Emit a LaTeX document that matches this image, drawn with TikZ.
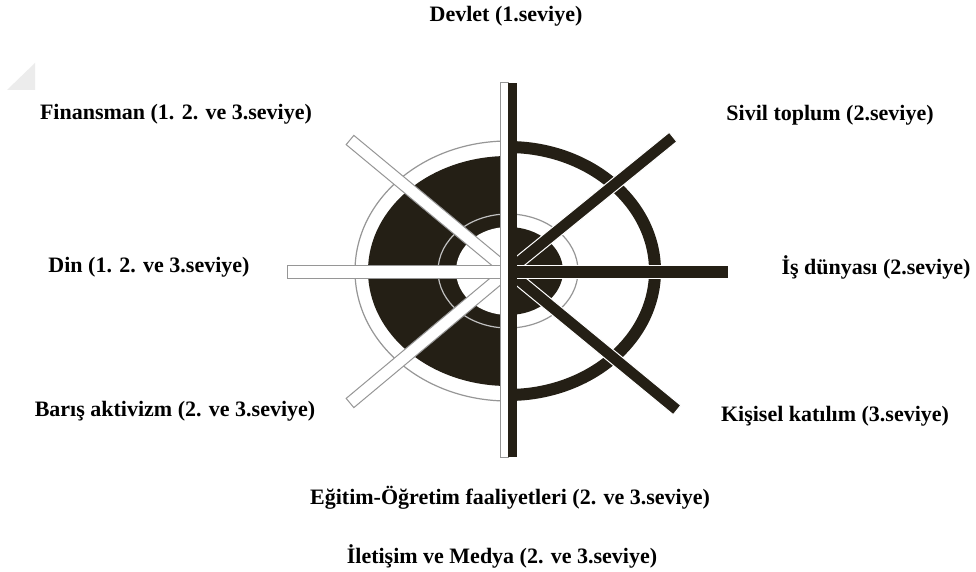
\documentclass[tikz,border=0pt]{standalone}
\usepackage{fontspec}
\setmainfont{Liberation Serif}
\usetikzlibrary{calc}
\definecolor{dk}{RGB}{36,31,21}
\definecolor{gl}{RGB}{150,150,150}
\definecolor{fold}{RGB}{236,236,236}
\newcommand\wheelbar[4]{\path[#4] ($(#1)!#3!90:(#2)$) -- ($(#1)!#3!-90:(#2)$) -- ($(#2)!#3!90:(#1)$) -- ($(#2)!#3!-90:(#1)$) -- cycle;}
\begin{document}
\begin{tikzpicture}[x=1pt,y=-1pt,
  lbl/.style={font=\fontsize{22}{26}\selectfont\bfseries, inner sep=0pt, anchor=base},
  whitebar/.style={fill=white, draw=gl, line width=1pt},
  darkbar/.style={fill=dk, draw=white, line width=1pt}]
\useasboundingbox (0,0) rectangle (976,572);
\fill[white] (0,0) rectangle (976,572);
\fill[fold] (35,63) -- (35,90) -- (7,90) -- cycle;
\coordinate (C) at (508,271);
% left half of the wheel
\begin{scope}
\clip (0,0) rectangle (508,572);
\draw[gl, line width=1.2pt, fill=white] (C) ellipse [x radius=153pt, y radius=130pt];
\fill[dk] (C) ellipse [x radius=140pt, y radius=115pt];
\draw[gl!60, line width=1.2pt] (C) ellipse [x radius=70pt, y radius=57pt];
\fill[white] (C) ellipse [x radius=52pt, y radius=44pt];
\end{scope}
% right half of the wheel
\begin{scope}
\clip (508,0) rectangle (976,572);
\draw[dk, line width=12pt] (C) ellipse [x radius=147pt, y radius=124pt];
\draw[gl, line width=1.2pt] (C) ellipse [x radius=70pt, y radius=57pt];
\fill[dk] (C) ellipse [x radius=55pt, y radius=44pt];
\end{scope}
% spokes
\coordinate (UL) at (350,140);
\coordinate (LL) at (350,403);
\coordinate (UR) at (673,137);
\coordinate (LR) at (677,410);
\coordinate (HL) at (287,271.5);
\coordinate (HR) at (728,271.5);
\coordinate (CH) at (508,271.5);
\wheelbar{C}{UL}{6pt}{whitebar}
\wheelbar{C}{LL}{6pt}{whitebar}
\wheelbar{CH}{HL}{6.5pt}{whitebar}
\wheelbar{C}{UR}{6pt}{darkbar}
\wheelbar{C}{LR}{6pt}{darkbar}
\wheelbar{CH}{HR}{6.5pt}{darkbar}
% vertical spoke
\path[fill=white, draw=gl, line width=1pt] (500,83) rectangle (508,457);
\path[fill=dk] (508,83) rectangle (517,457);
% labels
\node[lbl] (devlet) at (506,22) {Devlet (1.seviye)};
\node[lbl] (sivil) at (830,121) {Sivil toplum (2.seviye)};
\node[lbl] (finans) at (176,120) {Finansman (1. 2. ve 3.seviye)};
\node[lbl] (din) at (149,272) {Din (1. 2. ve 3.seviye)};
\node[lbl] (is) at (876,274) {İş dünyası (2.seviye)};
\node[lbl] (baris) at (175,416) {Barış aktivizm (2. ve 3.seviye)};
\node[lbl] (kisisel) at (835,421) {Kişisel katılım (3.seviye)};
\node[lbl] (egitim) at (510,504) {Eğitim-Öğretim faaliyetleri (2. ve 3.seviye)};
\node[lbl] (iletisim) at (502,563) {İletişim ve Medya (2. ve 3.seviye)};
\end{tikzpicture}
\end{document}
